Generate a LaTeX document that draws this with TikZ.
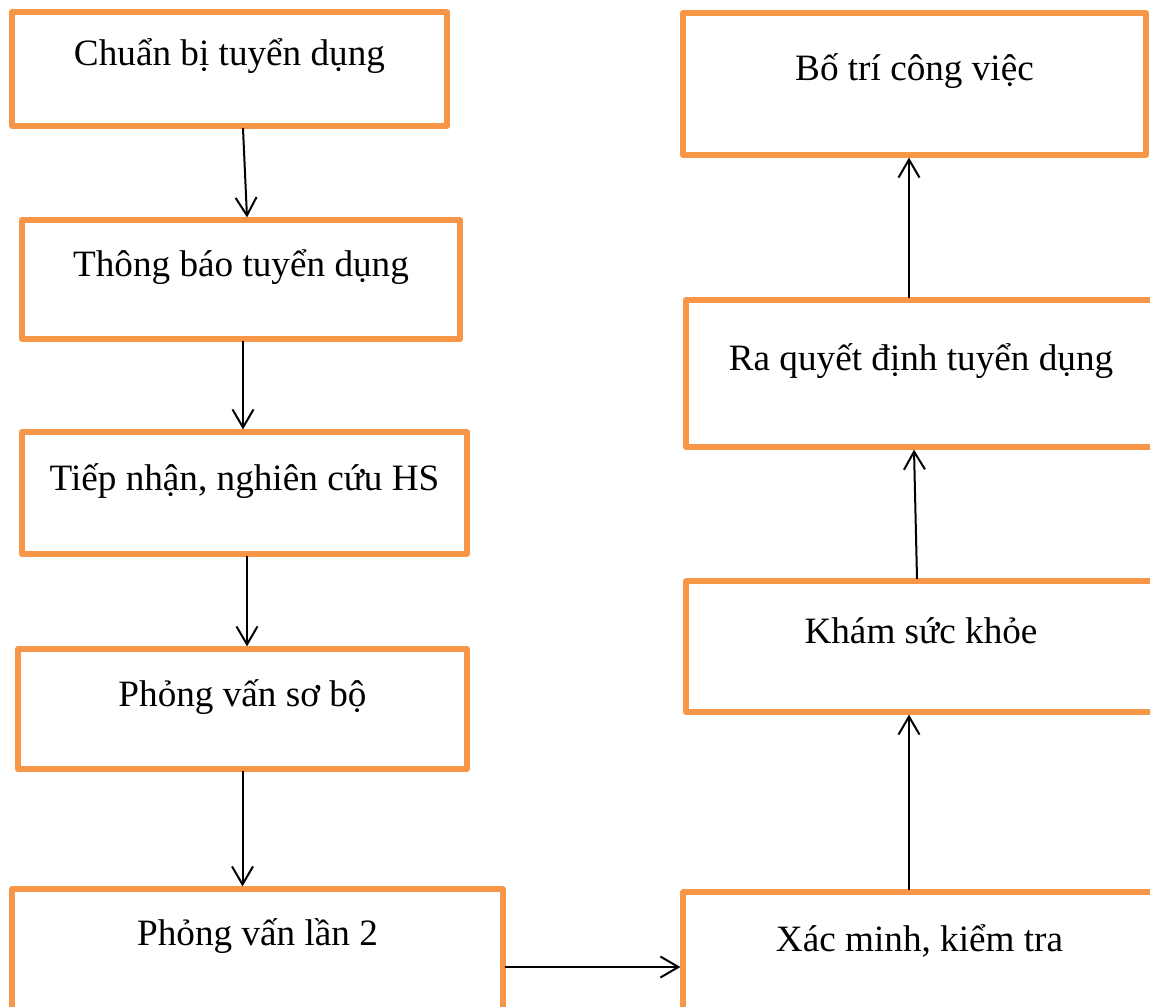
\documentclass[tikz,border=0pt]{standalone}
\usepackage{fontspec}
\setmainfont{Liberation Serif}
\usepackage{tikz}
\usetikzlibrary{arrows.meta}
\usetikzlibrary{positioning}
\definecolor{boxorange}{HTML}{F79646}

\tikzset{
  stepbox/.style={draw=boxorange,line width=2.6pt,line join=round,rectangle,
    inner sep=3pt,text height=12pt,text depth=15pt,
    font=\fontsize{18.6}{22}\selectfont},
  flow/.style={-{Straight Barb[length=9pt,width=10.5pt]},line width=1pt,black}
}

\begin{document}
\begin{tikzpicture}[line cap=round,line join=round,x=0.5pt,y=-0.5pt]
\useasboundingbox (0,0) rectangle (1150,1006);
% left column
\node[stepbox,minimum width=217.5pt,minimum height=57pt] (chuanbi) at (229.5,69) {Chuẩn bị tuyển dụng};
\node[stepbox,minimum width=219pt,minimum height=59.5pt] (thongbao) at (241,279.5) {Thông báo tuyển dụng};
\node[stepbox,minimum width=222.5pt,minimum height=61pt] (tiepnhan) at (244.5,493) {Tiếp nhận, nghiên cứu HS};
\node[stepbox,minimum width=224.5pt,minimum height=60pt] (sobo) at (242.5,709) {Phỏng vấn sơ bộ};
\node[stepbox,minimum width=245.5pt,minimum height=66pt,text depth=22pt] (lanhai) at (257.5,955) {Phỏng vấn lần 2};
% right column
\node[stepbox,minimum width=231.5pt,minimum height=71pt] (botri) at (914.5,84) {Bố trí công việc};
\node[stepbox,minimum width=235pt,minimum height=73.5pt] (quyetdinh) at (921,373.5) {Ra quyết định tuyển dụng};
\node[stepbox,minimum width=235pt,minimum height=65.5pt] (suckhoe) at (921,646.5) {Khám sức khỏe};
\node[stepbox,minimum width=236.5pt,minimum height=69pt,text depth=22pt] (xacminh) at (919.5,961) {Xác minh, kiểm tra};
% connectors
\draw[flow] ([xshift=6.75pt]chuanbi.south) -- ([xshift=3pt]thongbao.north);
\draw[flow] ([xshift=1pt]thongbao.south) -- ([xshift=1pt]thongbao.south |- tiepnhan.north);
\draw[flow] ([xshift=1.25pt]tiepnhan.south) -- ([xshift=1.25pt]tiepnhan.south |- sobo.north);
\draw[flow] (sobo.south) -- (sobo.south |- lanhai.north);
\draw[flow] ([yshift=-6pt]lanhai.east) -- ([yshift=-6pt]lanhai.east -| xacminh.west);
\draw[flow] ([xshift=-5.25pt]xacminh.north) -- ([xshift=-5.25pt]xacminh.north |- suckhoe.south);
\draw[flow] ([xshift=-2pt]suckhoe.north) -- ([xshift=-3.5pt]quyetdinh.south);
\draw[flow] ([xshift=-6pt]quyetdinh.north) -- ([xshift=-6pt]quyetdinh.north |- botri.south);
\end{tikzpicture}
\end{document}
